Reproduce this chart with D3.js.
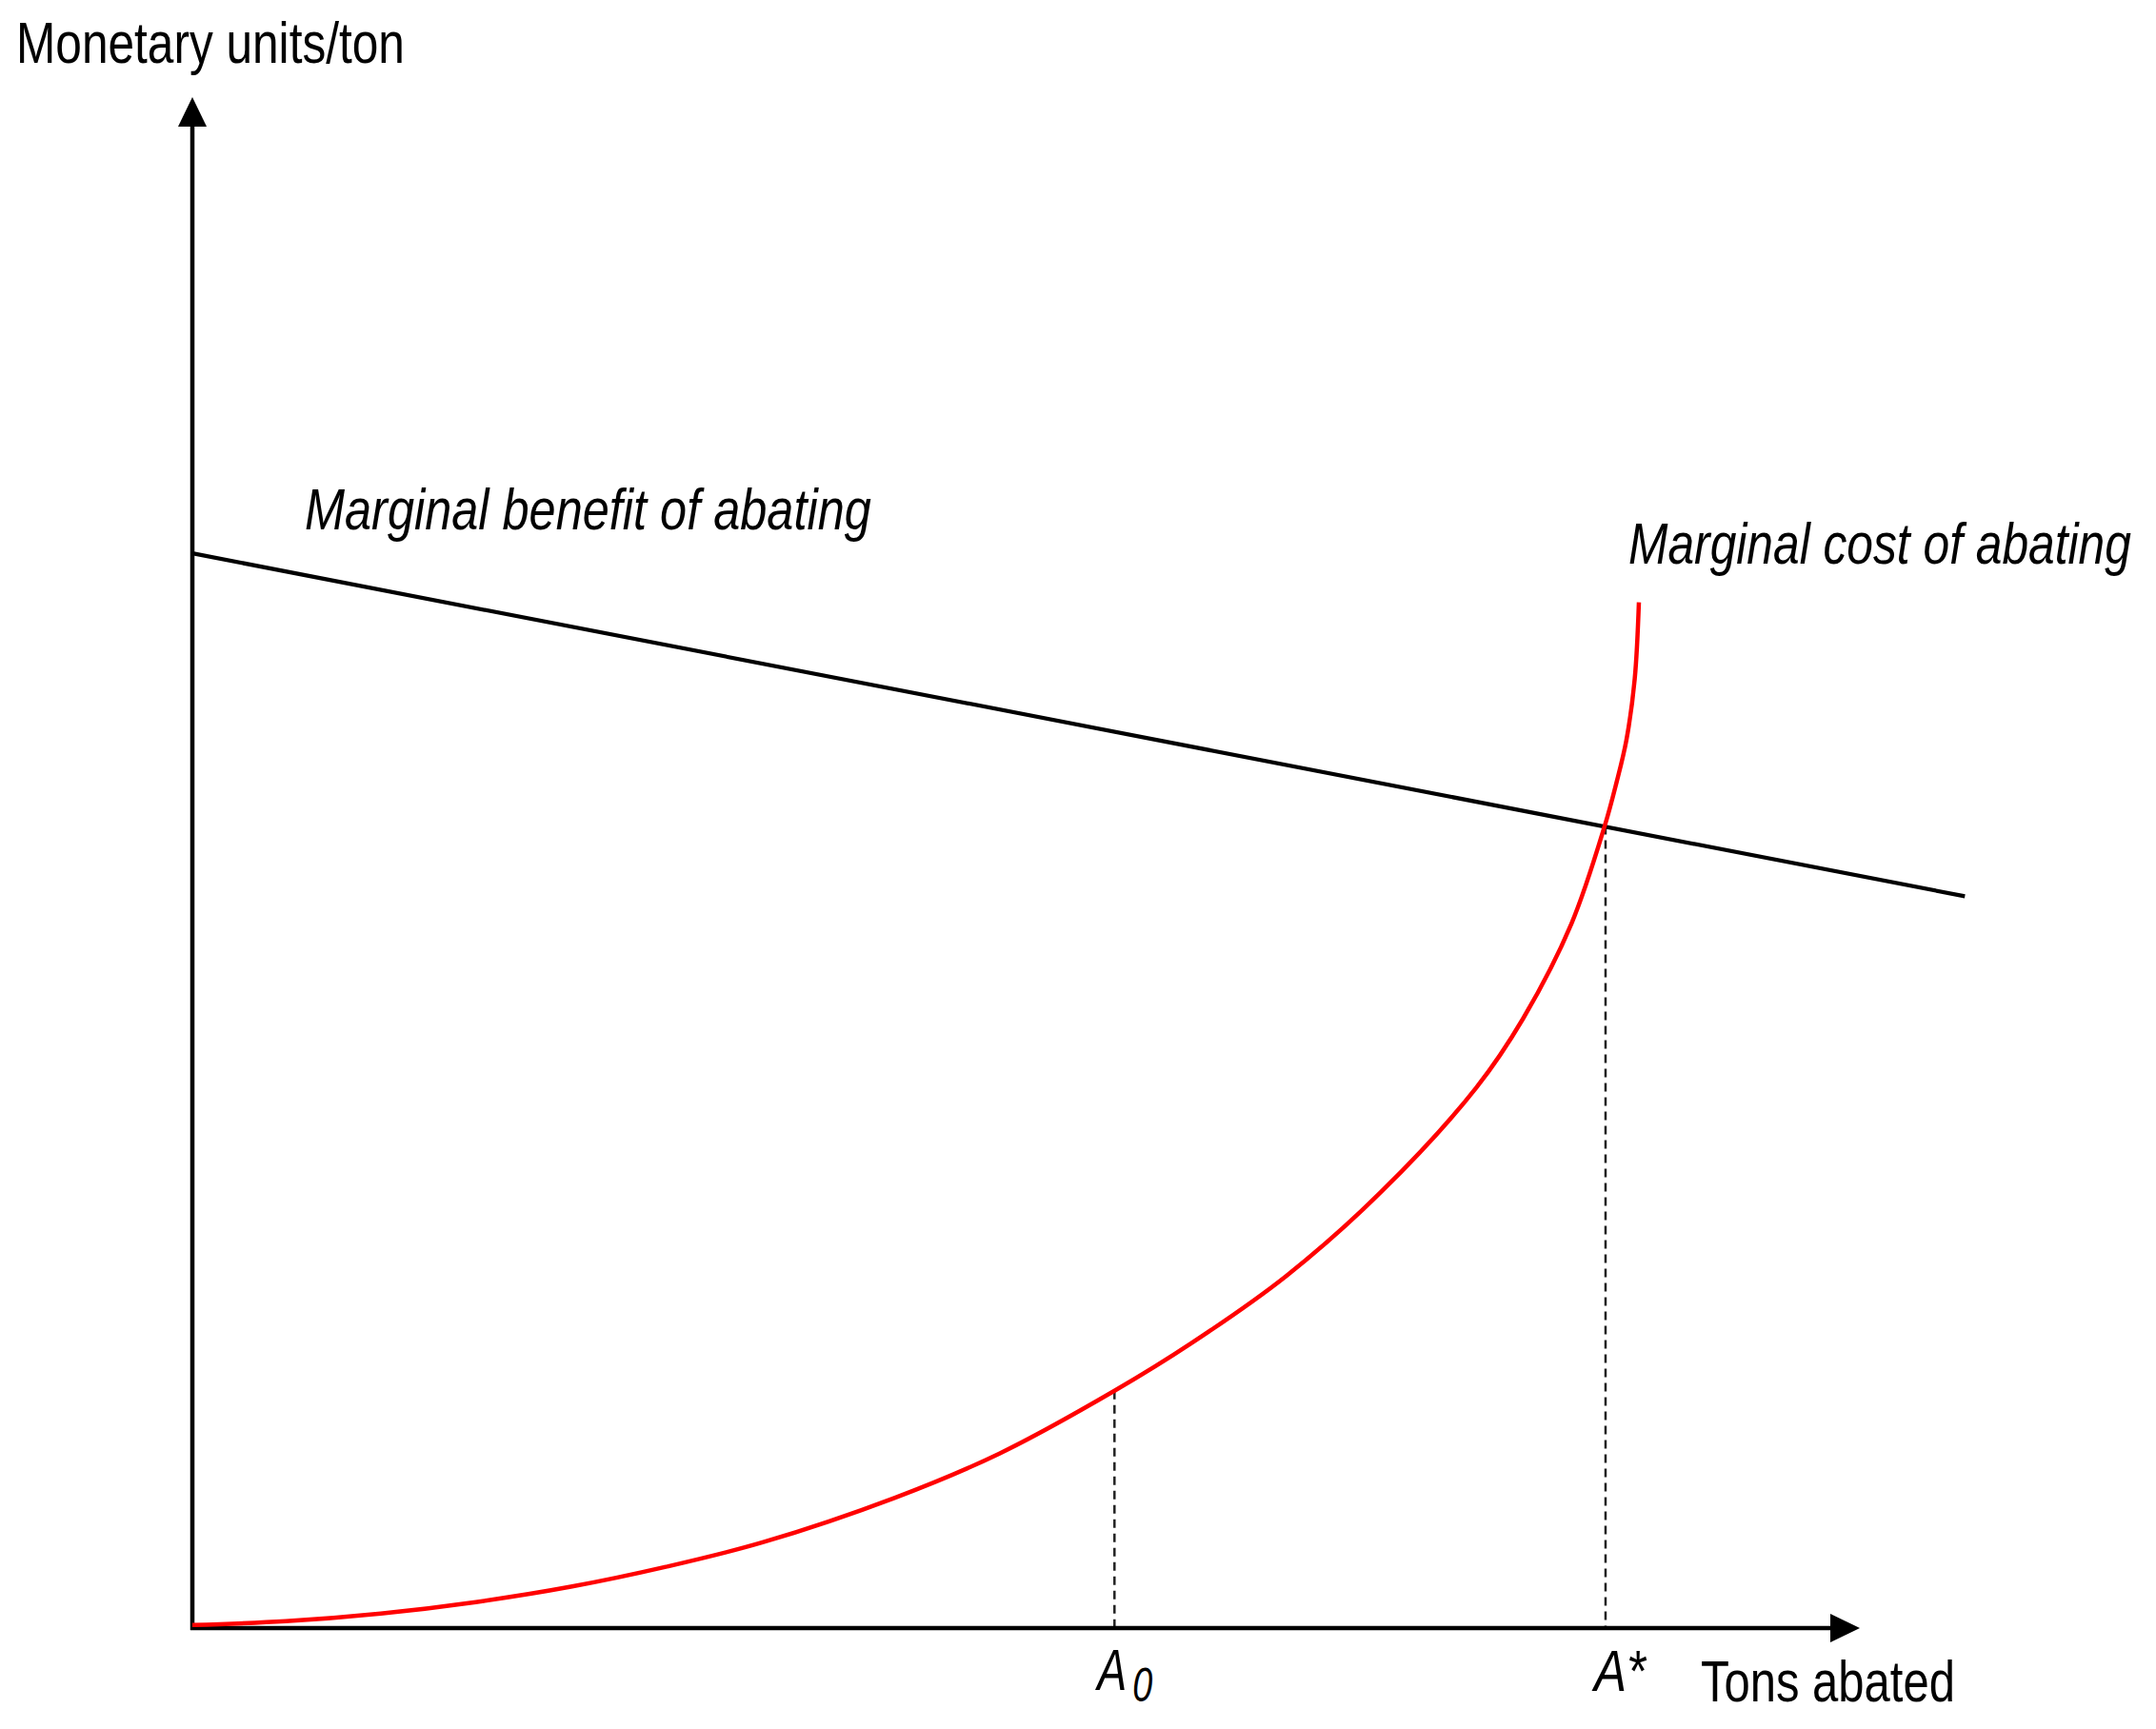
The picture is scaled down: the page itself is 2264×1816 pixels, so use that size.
<!DOCTYPE html>
<html>
<head>
<meta charset="utf-8">
<script src="https://cdn.jsdelivr.net/npm/d3@7"></script>
<style>
  html, body { margin: 0; padding: 0; background: #fff; }
  svg { display: block; }
  text { font-family: "Liberation Sans", Arial, sans-serif; fill: #000; }
</style>
</head>
<body>
<div id="chart"></div>
<script>
// values (x: tons abated, y: monetary units/ton, arbitrary units)
const benefitX = [0, 106.3];
const benefitY = [70.2, 47.8];

const costX = [0, 5.6, 11.3, 17.0, 22.7, 28.4, 34.2, 42.1, 48.4, 55.3, 59.9, 65.6, 71.3, 77.0, 79.8, 82.7, 84.7, 85.4, 86.0, 86.5, 86.75];
const costY = [0.2, 0.45, 0.95, 1.7, 2.7, 4.0, 5.6, 8.5, 11.4, 15.5, 18.6, 23.0, 28.5, 35.3, 39.8, 46.0, 52.4, 55.2, 58.0, 62.0, 67.0];

const marks = [
    { name: "A", sub: "0", value: 55.3, yVal: 15.5 },
    { name: "A", sup: "*", value: 84.75, yVal: 52.4 }
];

const axisMax = 100;

const width = 2264, height = 1816;

const x = d3.scaleLinear().domain([0, axisMax]).range([202, 1953]);
const y = d3.scaleLinear().domain([0, axisMax]).range([1710, 102]);

const svg = d3.select("#chart")
    .append("svg")
    .attr("width", width)
    .attr("height", height)
    .attr("viewBox", [0, 0, width, height]);

// dashed drop lines
svg.append("g")
    .selectAll("line")
    .data(marks)
    .join("line")
    .attr("x1", d => x(d.value))
    .attr("x2", d => x(d.value))
    .attr("y1", d => y(d.yVal))
    .attr("y2", y(0))
    .attr("stroke", "#222")
    .attr("stroke-width", 2.5)
    .attr("stroke-dasharray", "9,6");

// axes
const axes = svg.append("g").attr("stroke", "#000").attr("stroke-width", 4.5);
axes.append("line")
    .attr("x1", x(0)).attr("x2", x(0))
    .attr("y1", y(0) + 2).attr("y2", y(axisMax) + 25);
axes.append("line")
    .attr("x1", x(0) - 2).attr("x2", x(axisMax) - 25)
    .attr("y1", y(0)).attr("y2", y(0));

svg.append("path")
    .attr("d", `M${x(0)},${y(axisMax)} L${x(0) - 15},${y(axisMax) + 31} L${x(0) + 15},${y(axisMax) + 31} Z`)
    .attr("fill", "#000");
svg.append("path")
    .attr("d", `M${x(axisMax)},${y(0)} L${x(axisMax) - 31},${y(0) - 15} L${x(axisMax) - 31},${y(0) + 15} Z`)
    .attr("fill", "#000");

// marginal benefit line
svg.append("path")
    .datum(d3.zip(benefitX, benefitY))
    .attr("d", d3.line().x(d => x(d[0])).y(d => y(d[1])))
    .attr("fill", "none")
    .attr("stroke", "#000")
    .attr("stroke-width", 4.2);

// marginal cost curve
svg.append("path")
    .datum(d3.zip(costX, costY))
    .attr("d", d3.line().x(d => x(d[0])).y(d => y(d[1])).curve(d3.curveCatmullRom.alpha(0.5)))
    .attr("fill", "none")
    .attr("stroke", "#ff0000")
    .attr("stroke-width", 4.5);

// labels: condensed look, squeezed to the measured width
const label = (str, px, py, w, size, italic) => {
    const t = svg.append("text")
        .attr("font-size", size)
        .attr("font-style", italic ? "italic" : "normal")
        .text(str);
    const natural = t.node().getComputedTextLength();
    t.attr("transform", `translate(${px},${py}) scale(${w / natural},1)`);
    return t;
};

label("Monetary units/ton", 17, 66, 408, 61, false);
label("Tons abated", 1786, 1787, 267, 61, false);
label("Marginal benefit of abating", 320, 556, 595, 61, true);
label("Marginal cost of abating", 1710, 592, 528, 61, true);

// A0 and A* under the axis
const a0 = marks[0], aStar = marks[1];
label(a0.name, x(a0.value) - 18, 1775, 31, 61, true);
label(a0.sub, x(a0.value) + 19, 1787, 21, 50, true);
label(aStar.name + aStar.sup, x(aStar.value) - 12, 1776, 54, 61, true);
</script>
</body>
</html>
